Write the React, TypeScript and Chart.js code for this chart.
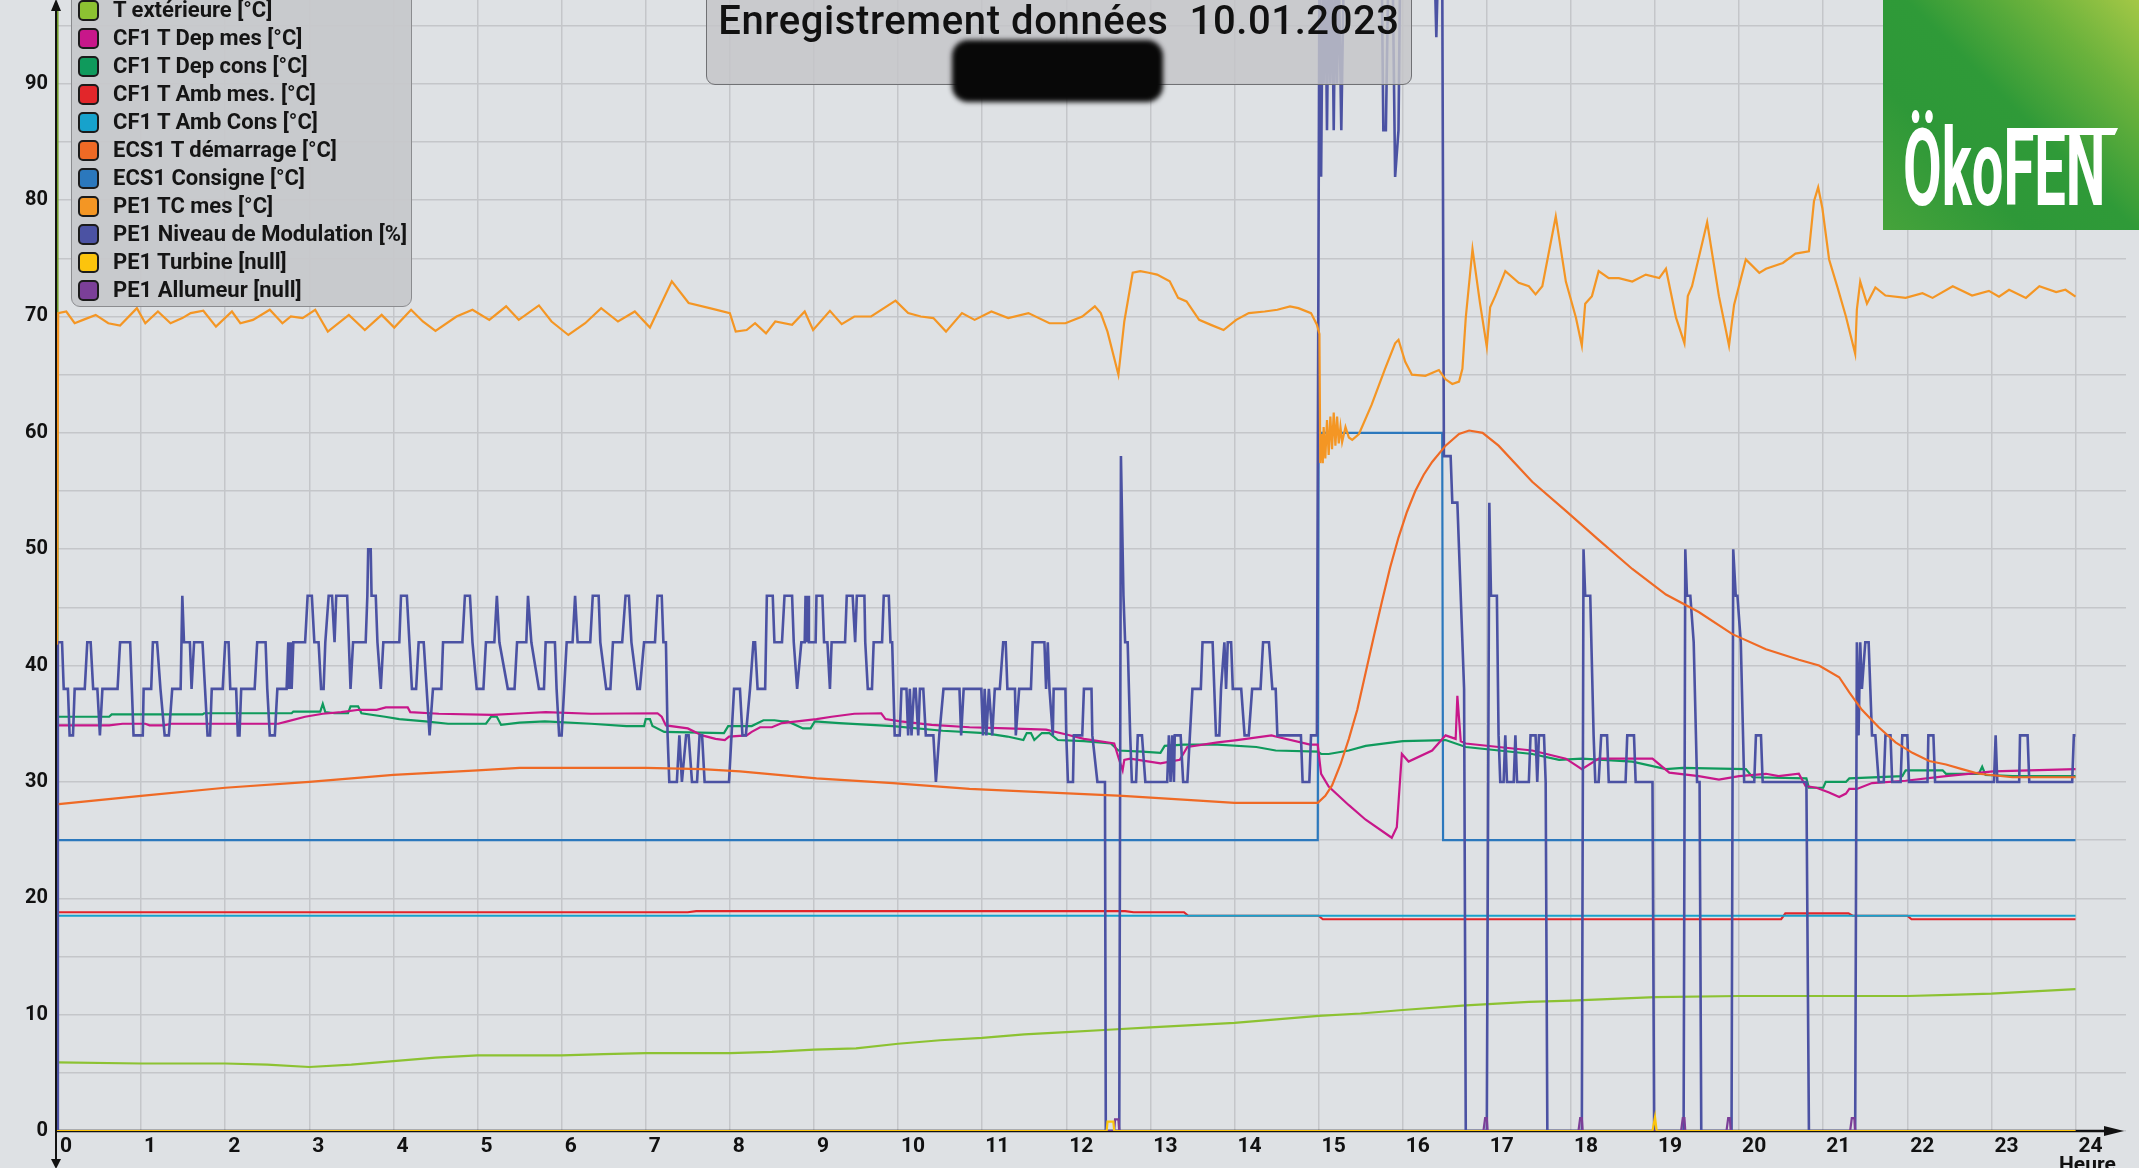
import React, { useEffect, useRef } from "react";
import { Chart, registerables } from "chart.js";

Chart.register(...registerables);

const chartTitle = "Enregistrement données  10.01.2023";
const xAxisName = "Heure";
const logoText = "ÖkoFEN";
const hourLabels = ["0","1","2","3","4","5","6","7","8","9","10","11","12","13","14","15","16","17","18","19","20","21","22","23","24"];
const yLabels = ["0","10","20","30","40","50","60","70","80","90"];

const seriesNames = [
  "T extérieure [°C]",
  "CF1 T Dep mes [°C]",
  "CF1 T Dep cons [°C]",
  "CF1 T Amb mes. [°C]",
  "CF1 T Amb Cons [°C]",
  "ECS1 T démarrage [°C]",
  "ECS1 Consigne [°C]",
  "PE1 TC mes [°C]",
  "PE1 Niveau de Modulation [%]",
  "PE1 Turbine [null]",
  "PE1 Allumeur [null]",
];
const seriesColors = ["#8cc232", "#c8178a", "#0f9a5c", "#e2262a", "#17a2cc", "#ef6a25", "#2b78bd", "#f49624", "#4b52a3", "#fcc40c", "#7b3f98"];

type P = [number, number];

const tExterieure: P[] = [[0,5.9],[1,5.8],[2,5.8],[2.5,5.7],[3,5.5],[3.5,5.7],[4,6.0],[4.5,6.3],[5,6.5],[6,6.5],[6.5,6.6],[7,6.7],[8,6.7],[8.5,6.8],[9,7.0],[9.5,7.1],[10,7.5],[10.5,7.8],[11,8.0],[11.5,8.3],[12,8.5],[12.5,8.7],[13,8.9],[13.5,9.1],[14,9.3],[14.5,9.6],[15,9.9],[15.5,10.1],[16,10.4],[16.75,10.8],[17.5,11.1],[18,11.2],[19,11.5],[20,11.6],[21,11.6],[22,11.6],[22.5,11.7],[23,11.8],[23.5,12.0],[24,12.2]];

const depMes: P[] = [[0.02,34.86],[0.62,34.86],[0.78,35.0],[1.05,35.0],[1.1,34.86],[1.27,34.86],[1.36,35.0],[2.63,35.0],[2.74,35.2],[2.95,35.6],[3.16,35.86],[3.38,36.0],[3.59,36.2],[3.8,36.2],[3.91,36.4],[4.17,36.4],[4.2,36.0],[4.54,35.86],[5.18,35.77],[5.55,35.9],[5.81,36.0],[6.35,35.86],[7.14,35.9],[7.19,35.6],[7.24,34.86],[7.5,34.6],[7.67,34.0],[7.83,33.7],[7.94,33.6],[7.99,33.9],[8.2,34.0],[8.26,34.3],[8.36,34.7],[8.5,34.7],[8.62,35.06],[9.03,35.4],[9.21,35.6],[9.48,35.86],[9.8,35.9],[9.85,35.4],[10.03,35.2],[10.4,34.9],[10.85,34.7],[11.3,34.6],[11.76,34.5],[11.99,34.1],[12.21,33.7],[12.57,33.3],[12.62,32.1],[12.67,31.0],[12.69,31.9],[12.76,32.0],[13.12,31.6],[13.35,31.9],[13.44,33.0],[13.8,33.4],[14.03,33.6],[14.44,34.0],[14.49,33.9],[14.9,33.2],[14.99,33.2],[15.03,30.7],[15.12,29.6],[15.36,28.0],[15.56,26.75],[15.87,25.2],[15.93,26.1],[15.99,32.4],[16.07,31.75],[16.35,32.7],[16.51,34.0],[16.63,33.7],[16.65,37.4],[16.69,33.5],[16.75,33.3],[17.14,33.0],[17.54,32.7],[17.94,32.0],[18.13,31.1],[18.33,32.0],[18.97,32.0],[19.17,30.8],[19.52,30.5],[19.76,30.2],[20.0,30.5],[20.32,30.7],[20.47,30.5],[20.71,30.7],[20.79,29.65],[20.92,29.5],[21.07,29.1],[21.19,28.7],[21.27,29.0],[21.31,29.4],[21.4,29.4],[21.58,29.9],[21.98,30.1],[22.46,30.5],[23.02,30.9],[24,31.1]];

const depCons: P[] = [[0.02,35.6],[0.62,35.6],[0.65,35.8],[1.73,35.8],[1.75,35.9],[2.79,35.9],[2.81,36.05],[3.13,36.05],[3.16,36.7],[3.19,36.0],[3.3,35.9],[3.46,35.9],[3.49,36.5],[3.58,36.5],[3.62,35.9],[3.9,35.6],[4.07,35.4],[4.38,35.2],[4.65,35.0],[5.1,35.0],[5.16,35.6],[5.23,35.6],[5.28,34.9],[5.5,35.1],[5.8,35.2],[6.35,35.0],[6.77,34.8],[6.98,34.8],[7.0,35.4],[7.05,35.4],[7.08,34.8],[7.22,34.3],[7.93,34.2],[7.98,34.8],[8.26,34.8],[8.4,35.3],[8.53,35.3],[8.62,35.2],[8.69,35.2],[8.87,34.6],[8.96,34.6],[9.01,35.2],[9.3,35.05],[9.94,34.8],[10.53,34.4],[11.03,34.2],[11.3,33.9],[11.49,33.6],[11.53,34.2],[11.58,34.2],[11.62,33.6],[11.71,34.2],[11.8,34.2],[11.9,33.6],[12.21,33.5],[12.53,33.3],[12.62,32.7],[12.9,32.6],[13.12,32.5],[13.17,33.1],[13.4,33.2],[13.8,33.2],[14.26,33.0],[14.49,32.7],[14.99,32.6],[15.03,32.4],[15.12,32.4],[15.36,32.7],[15.56,33.1],[16.0,33.5],[16.51,33.6],[16.75,33.0],[17.54,32.4],[17.86,31.9],[18.13,32.0],[18.73,31.75],[19.13,31.1],[19.33,31.2],[20.08,31.1],[20.16,30.4],[20.8,30.3],[20.83,29.5],[21.0,29.5],[21.03,30.0],[21.27,30.0],[21.31,30.3],[21.94,30.5],[21.98,31.0],[22.42,31.0],[22.46,30.7],[22.85,30.7],[22.89,31.3],[22.93,30.6],[23.25,30.5],[24,30.5]];

const ambMes: P[] = [[0.02,18.8],[7.5,18.8],[7.6,18.9],[12.7,18.9],[12.8,18.8],[13.4,18.8],[13.45,18.5],[15.0,18.5],[15.05,18.2],[20.5,18.2],[20.55,18.7],[21.3,18.7],[21.35,18.5],[22.0,18.5],[22.05,18.2],[24,18.2]];

const ambCons: P[] = [[0.02,18.5],[24,18.5]];

const ecsDemarrage: P[] = [[0.02,28.1],[1.0,28.8],[2.0,29.5],[3.0,30.0],[4.0,30.6],[5.0,31.0],[5.5,31.2],[7.0,31.2],[7.67,31.1],[8.12,30.9],[9.03,30.3],[9.94,29.9],[10.85,29.4],[11.76,29.1],[12.67,28.8],[13.58,28.4],[14.0,28.2],[14.99,28.2],[15.08,28.8],[15.16,29.7],[15.26,31.5],[15.36,33.7],[15.46,36.2],[15.56,39.4],[15.66,42.6],[15.75,45.4],[15.85,48.4],[15.95,51.0],[16.05,53.2],[16.15,55.0],[16.25,56.4],[16.35,57.5],[16.51,58.9],[16.67,59.9],[16.79,60.2],[16.95,60.0],[17.14,58.9],[17.54,55.8],[17.94,53.3],[18.33,50.8],[18.73,48.3],[19.13,46.1],[19.52,44.6],[19.92,42.7],[20.32,41.4],[20.71,40.5],[20.95,40.0],[21.19,39.0],[21.31,37.7],[21.46,36.2],[21.66,34.7],[21.86,33.4],[22.06,32.5],[22.26,31.8],[22.46,31.5],[22.65,31.1],[22.85,30.7],[23.25,30.4],[24,30.4]];

const ecsConsigne: P[] = [[0.02,25],[14.99,25],[15.0,60],[16.47,60],[16.48,25],[24,25]];

const tcMes: P[] = [[0.0,41.8],[0.014,70.29],[0.11,70.43],[0.21,69.42],[0.31,69.71],[0.46,70.14],[0.61,69.42],[0.75,69.22],[0.95,70.72],[1.05,69.42],[1.2,70.43],[1.35,69.42],[1.49,69.86],[1.59,70.29],[1.74,70.49],[1.89,69.13],[2.08,70.43],[2.18,69.42],[2.33,69.71],[2.53,70.58],[2.68,69.42],[2.78,70.0],[2.92,69.86],[3.07,70.58],[3.22,68.7],[3.47,70.14],[3.66,68.84],[3.86,70.14],[4.01,69.05],[4.21,70.58],[4.35,69.57],[4.5,68.76],[4.75,70.0],[4.94,70.58],[5.14,69.71],[5.34,70.87],[5.49,69.71],[5.73,70.95],[5.88,69.57],[6.08,68.41],[6.28,69.42],[6.47,70.72],[6.67,69.57],[6.87,70.43],[7.05,69.05],[7.31,73.03],[7.51,71.16],[7.76,70.72],[8.0,70.29],[8.07,68.7],[8.2,68.84],[8.3,69.42],[8.43,68.55],[8.54,69.57],[8.74,69.28],[8.89,70.43],[8.99,68.84],[9.19,70.49],[9.33,69.34],[9.48,70.0],[9.68,70.0],[9.97,71.36],[10.12,70.29],[10.27,70.0],[10.42,69.86],[10.57,68.7],[10.76,70.29],[10.91,69.71],[11.11,70.43],[11.31,69.86],[11.55,70.29],[11.8,69.42],[11.99,69.42],[12.19,70.0],[12.34,70.87],[12.41,70.29],[12.49,68.7],[12.62,65.0],[12.69,69.57],[12.79,73.76],[12.88,73.9],[12.98,73.76],[13.08,73.6],[13.23,73.03],[13.33,71.6],[13.43,71.3],[13.58,69.71],[13.72,69.28],[13.87,68.84],[14.02,69.71],[14.17,70.29],[14.36,70.43],[14.51,70.58],[14.66,70.87],[14.76,70.72],[14.91,70.29],[14.98,69.3],[15.01,68.5],[15.02,57.4],[15.04,59.9],[15.05,57.4],[15.06,60.5],[15.08,57.8],[15.1,61.1],[15.12,58.1],[15.14,61.4],[15.16,58.6],[15.18,61.75],[15.2,58.9],[15.22,61.4],[15.24,59.1],[15.26,60.5],[15.28,59.2],[15.32,60.5],[15.36,59.6],[15.4,59.4],[15.48,59.9],[15.63,62.4],[15.79,65.5],[15.91,67.7],[15.95,68.0],[16.03,66.1],[16.11,65.0],[16.27,64.9],[16.43,65.4],[16.51,64.6],[16.59,64.2],[16.67,64.4],[16.71,65.5],[16.75,69.9],[16.83,75.8],[16.92,71.1],[17.0,67.4],[17.04,70.8],[17.1,71.75],[17.22,73.9],[17.38,72.9],[17.5,72.6],[17.58,71.9],[17.66,72.6],[17.82,78.6],[17.94,73.0],[18.06,69.9],[18.13,67.5],[18.17,71.1],[18.25,71.75],[18.33,73.9],[18.45,73.3],[18.57,73.3],[18.73,73.0],[18.89,73.6],[19.05,73.3],[19.13,74.1],[19.25,69.9],[19.35,67.7],[19.39,71.75],[19.44,72.6],[19.62,78.1],[19.76,71.75],[19.88,67.5],[19.94,71.0],[20.08,74.9],[20.24,73.75],[20.32,74.1],[20.52,74.6],[20.67,75.4],[20.83,75.6],[20.89,79.9],[20.94,81.1],[20.99,79.3],[21.07,74.9],[21.17,72.5],[21.27,70.0],[21.38,66.8],[21.4,70.6],[21.44,73.0],[21.52,71.1],[21.62,72.5],[21.74,71.8],[21.98,71.6],[22.18,72.0],[22.3,71.6],[22.54,72.6],[22.77,71.8],[22.97,72.2],[23.09,71.7],[23.21,72.3],[23.41,71.6],[23.57,72.6],[23.77,72.1],[23.88,72.3],[24.0,71.7]];

const modulation: P[] = [[0,0],[0.01,42],[0.06,42],[0.08,38],[0.13,38],[0.15,34],[0.19,34],[0.21,38],[0.33,38],[0.36,42],[0.4,42],[0.43,38],[0.48,38],[0.51,34],[0.54,38],[0.72,38],[0.75,42],[0.87,42],[0.89,38],[0.91,34],[1.02,34],[1.03,38],[1.12,38],[1.14,42],[1.19,42],[1.23,38],[1.28,34],[1.33,34],[1.37,38],[1.47,38],[1.49,46],[1.51,42],[1.58,42],[1.6,38],[1.63,42],[1.73,42],[1.76,38],[1.79,34],[1.82,34],[1.84,38],[1.97,38],[2.0,42],[2.04,42],[2.06,38],[2.13,38],[2.15,34],[2.17,34],[2.19,38],[2.35,38],[2.38,42],[2.48,42],[2.5,38],[2.53,34],[2.59,34],[2.62,38],[2.73,38],[2.75,42],[2.76,38],[2.78,42],[2.79,38],[2.81,42],[2.95,42],[2.98,46],[3.03,46],[3.06,42],[3.11,42],[3.14,38],[3.17,38],[3.19,42],[3.23,46],[3.27,46],[3.3,42],[3.32,46],[3.45,46],[3.47,42],[3.49,38],[3.52,42],[3.67,42],[3.69,46],[3.7,50],[3.73,50],[3.74,46],[3.79,46],[3.81,42],[3.85,38],[3.88,42],[4.07,42],[4.09,46],[4.16,46],[4.19,42],[4.22,38],[4.27,38],[4.3,42],[4.36,42],[4.43,34],[4.47,38],[4.57,38],[4.59,42],[4.82,42],[4.85,46],[4.91,46],[4.94,42],[4.99,38],[5.07,38],[5.1,42],[5.2,42],[5.23,46],[5.26,42],[5.36,38],[5.44,38],[5.47,42],[5.58,42],[5.6,46],[5.64,42],[5.73,38],[5.79,38],[5.81,42],[5.92,42],[5.94,38],[5.97,34],[6.0,34],[6.03,38],[6.06,42],[6.13,42],[6.16,46],[6.19,42],[6.34,42],[6.37,46],[6.44,46],[6.46,42],[6.53,38],[6.58,38],[6.61,42],[6.72,42],[6.76,46],[6.8,46],[6.83,42],[6.9,38],[6.93,38],[6.98,42],[7.11,42],[7.14,46],[7.19,46],[7.21,42],[7.24,42],[7.26,34],[7.28,30],[7.37,30],[7.4,34],[7.43,30],[7.48,34],[7.51,34],[7.55,30],[7.61,30],[7.64,34],[7.67,34],[7.7,30],[7.99,30],[8.02,34],[8.05,38],[8.12,38],[8.15,34],[8.19,34],[8.24,38],[8.28,42],[8.3,42],[8.33,38],[8.42,38],[8.44,46],[8.51,46],[8.53,42],[8.62,42],[8.65,46],[8.74,46],[8.76,42],[8.8,38],[8.85,42],[8.89,42],[8.9,46],[8.91,42],[8.93,46],[8.94,42],[9.02,42],[9.03,46],[9.1,46],[9.12,42],[9.16,42],[9.19,38],[9.21,42],[9.37,42],[9.39,46],[9.46,46],[9.49,42],[9.51,46],[9.6,46],[9.61,42],[9.64,38],[9.69,38],[9.71,42],[9.81,42],[9.83,46],[9.89,46],[9.91,42],[9.93,42],[9.96,34],[10.02,34],[10.04,38],[10.1,38],[10.12,34],[10.14,38],[10.16,34],[10.19,38],[10.21,38],[10.24,34],[10.26,38],[10.3,38],[10.33,34],[10.42,34],[10.45,30],[10.49,34],[10.54,38],[10.73,38],[10.75,34],[10.78,38],[10.99,38],[11.01,34],[11.03,38],[11.05,34],[11.08,38],[11.12,34],[11.15,38],[11.21,38],[11.25,42],[11.28,42],[11.3,38],[11.39,38],[11.4,34],[11.44,38],[11.58,38],[11.6,42],[11.74,42],[11.76,38],[11.78,42],[11.8,38],[11.84,34],[11.85,38],[11.99,38],[12.0,34],[12.02,30],[12.08,30],[12.09,34],[12.19,34],[12.21,38],[12.3,38],[12.31,34],[12.37,30],[12.46,30],[12.47,0],[12.63,0],[12.65,58],[12.68,46],[12.7,42],[12.73,42],[12.76,34],[12.78,30],[12.83,30],[12.85,34],[12.9,34],[12.94,30],[13.2,30],[13.22,34],[13.24,30],[13.26,34],[13.28,30],[13.29,34],[13.36,34],[13.39,30],[13.44,30],[13.47,34],[13.5,38],[13.6,38],[13.62,42],[13.74,42],[13.78,34],[13.82,34],[13.84,38],[13.88,42],[13.9,38],[13.92,42],[13.96,42],[13.98,38],[14.08,38],[14.12,34],[14.17,34],[14.21,38],[14.31,38],[14.34,42],[14.41,42],[14.45,38],[14.49,38],[14.51,34],[14.79,34],[14.81,30],[14.89,30],[14.91,34],[14.98,34],[15.01,100],[15.03,82],[15.05,100],[15.06,90],[15.08,100],[15.1,86],[15.12,100],[15.14,90],[15.16,100],[15.18,86],[15.2,100],[15.22,90],[15.24,100],[15.27,86],[15.3,100],[15.75,100],[15.77,86],[15.8,86],[15.83,100],[15.88,100],[15.91,82],[15.95,86],[15.97,100],[16.38,100],[16.4,94],[16.42,100],[16.47,100],[16.49,58],[16.57,58],[16.59,54],[16.65,54],[16.67,50],[16.7,44],[16.73,38],[16.75,0],[17.0,0],[17.03,54],[17.05,46],[17.12,46],[17.14,34],[17.16,30],[17.2,30],[17.22,34],[17.24,30],[17.32,30],[17.34,34],[17.36,30],[17.5,30],[17.52,34],[17.58,34],[17.6,30],[17.62,34],[17.68,34],[17.7,30],[17.72,0],[18.13,0],[18.15,50],[18.17,46],[18.23,46],[18.27,34],[18.29,30],[18.33,30],[18.36,34],[18.43,34],[18.45,30],[18.65,30],[18.67,34],[18.75,34],[18.77,30],[18.97,30],[18.99,0],[19.34,0],[19.36,50],[19.38,46],[19.42,46],[19.46,42],[19.5,30],[19.53,30],[19.55,0],[19.91,0],[19.93,50],[19.96,46],[19.98,46],[20.02,42],[20.06,30],[20.18,30],[20.2,34],[20.26,34],[20.28,30],[20.8,30],[20.83,0],[21.38,0],[21.4,42],[21.42,34],[21.44,42],[21.46,38],[21.5,42],[21.54,42],[21.56,38],[21.58,34],[21.62,34],[21.66,30],[21.72,30],[21.74,34],[21.8,34],[21.82,30],[21.92,30],[21.94,34],[22.0,34],[22.02,30],[22.24,30],[22.25,34],[22.31,34],[22.33,30],[23.03,30],[23.05,34],[23.07,30],[23.33,30],[23.34,34],[23.43,34],[23.45,30],[23.96,30],[23.98,34],[24.0,34]];

const turbine: P[] = [[0,0],[12.48,0],[12.49,0.8],[12.56,0.8],[12.57,0],[18.97,0],[19.0,1.2],[19.02,0],[24,0]];

const allumeur: P[] = [[0,0],[12.57,0],[12.58,1],[12.62,1],[12.63,0],[16.96,0],[16.98,1.1],[17.0,1.1],[17.01,0],[18.09,0],[18.11,1.1],[18.13,1.1],[18.14,0],[19.31,0],[19.33,1.1],[19.35,1.1],[19.36,0],[19.85,0],[19.87,1.1],[19.89,1.1],[19.9,0],[21.32,0],[21.34,1.1],[21.37,1.1],[21.38,0],[24,0]];

const seriesData: P[][] = [tExterieure, depMes, depCons, ambMes, ambCons, ecsDemarrage, ecsConsigne, tcMes, modulation, turbine, allumeur];
const seriesOrder = [3, 3, 3, 4, 3, 2, 3, 1, 2, 0, 0];

const W = 2139;
const H = 1168;
const FONT = "Roboto, 'DejaVu Sans', sans-serif";

const axesPlugin = {
  id: "customAxes",
  beforeDatasetsDraw(chart: any) {
    const { ctx } = chart;
    const xs = chart.scales.x;
    const ys = chart.scales.y;
    const x0 = xs.getPixelForValue(0);
    const y0 = ys.getPixelForValue(0);
    ctx.save();
    ctx.strokeStyle = "#111";
    ctx.fillStyle = "#111";
    ctx.lineWidth = 2.5;
    ctx.beginPath();
    ctx.moveTo(x0 - 1, y0);
    ctx.lineTo(2110, y0);
    ctx.stroke();
    ctx.beginPath();
    ctx.moveTo(2124, y0);
    ctx.lineTo(2104, y0 - 5);
    ctx.lineTo(2104, y0 + 5);
    ctx.closePath();
    ctx.fill();
    ctx.lineWidth = 2;
    ctx.beginPath();
    ctx.moveTo(x0 - 1, 8);
    ctx.lineTo(x0 - 1, 1162);
    ctx.stroke();
    ctx.strokeStyle = "#6e9a22";
    ctx.lineWidth = 1.5;
    ctx.beginPath();
    ctx.moveTo(x0 + 0.8, 8);
    ctx.lineTo(x0 + 0.8, y0);
    ctx.stroke();
    ctx.beginPath();
    ctx.moveTo(x0 - 1, -1);
    ctx.lineTo(x0 - 6, 11);
    ctx.lineTo(x0 + 4, 11);
    ctx.closePath();
    ctx.fill();
    ctx.beginPath();
    ctx.moveTo(x0 - 1, 1169);
    ctx.lineTo(x0 - 6, 1159);
    ctx.lineTo(x0 + 4, 1159);
    ctx.closePath();
    ctx.fill();
    ctx.restore();
  },
};

export default function App() {
  const canvasRef = useRef<HTMLCanvasElement | null>(null);

  useEffect(() => {
    const canvas = canvasRef.current;
    if (!canvas) return;
    const datasets = seriesNames.map((name, i) => ({
      label: name,
      data: seriesData[i].map(([x, y]) => ({ x, y })),
      borderColor: seriesColors[i],
      backgroundColor: seriesColors[i],
      borderWidth: i === 8 ? 2.6 : 2.2,
      pointRadius: 0,
      fill: false,
      tension: 0,
      order: seriesOrder[i],
    }));
    const chart = new Chart(canvas, {
      type: "line",
      data: { datasets },
      options: {
        animation: false,
        responsive: false,
        events: [],
        layout: { padding: { left: 0, right: 13, top: 0, bottom: 0 } },
        plugins: {
          legend: { display: false },
          tooltip: { enabled: false },
          title: { display: false },
        },
        scales: {
          x: {
            type: "linear",
            min: 0,
            max: 24.6,
            afterFit: (s: any) => {
              s.height = 37;
              s.paddingLeft = 0;
              s.paddingRight = 0;
            },
            border: { display: false },
            grid: { color: "#c4c6c9", lineWidth: 1.5, drawTicks: false },
            ticks: {
              stepSize: 1,
              includeBounds: false,
              autoSkip: false,
              maxRotation: 0,
              maxTicksLimit: 100,
              align: "start",
              labelOffset: 3,
              padding: 3,
              color: "#111",
              font: { family: FONT, weight: "bold", size: 21 },
              callback: (v: any) => hourLabels[v] ?? "",
            },
          },
          y: {
            type: "linear",
            min: 0,
            max: 97.2,
            afterFit: (s: any) => {
              s.width = 57;
              s.paddingTop = 0;
              s.paddingBottom = 0;
            },
            border: { display: false },
            grid: { color: "#c4c6c9", lineWidth: 1.5, drawTicks: false },
            ticks: {
              stepSize: 5,
              includeBounds: false,
              autoSkip: false,
              maxTicksLimit: 100,
              padding: 9,
              color: "#111",
              font: { family: FONT, weight: "bold", size: 20 },
              callback: (v: any) => (v % 10 === 0 ? yLabels[v / 10] ?? "" : ""),
            },
          },
        },
      } as any,
      plugins: [axesPlugin],
    });
    return () => chart.destroy();
  }, []);

  return (
    <div
      style={{
        position: "fixed",
        left: 0,
        top: 0,
        width: W,
        height: H,
        overflow: "hidden",
        background: "#dee1e4",
        fontFamily: FONT,
      }}
    >
      <canvas ref={canvasRef} width={W} height={H} style={{ position: "absolute", left: 0, top: 0, width: W, height: H }} />

      <div
        style={{
          position: "absolute",
          left: 71,
          top: -14,
          width: 341,
          height: 321,
          boxSizing: "border-box",
          background: "rgba(199,200,203,0.94)",
          border: "1.5px solid #8b8c8f",
          borderRadius: 9,
        }}
      />
      {seriesNames.map((name, i) => (
        <div key={name} style={{ position: "absolute", left: 78, top: 10 + 28 * i - 14, height: 28, display: "flex", alignItems: "center" }}>
          <div
            style={{
              width: 21,
              height: 21,
              boxSizing: "border-box",
              border: "2px solid #1b1b1b",
              borderRadius: 5,
              background: seriesColors[i],
            }}
          />
          <span
            style={{
              marginLeft: 14,
              fontWeight: 700,
              fontSize: 22,
              lineHeight: "28px",
              color: "#151515",
              whiteSpace: "nowrap",
            }}
          >
            {name}
          </span>
        </div>
      ))}

      <div
        style={{
          position: "absolute",
          left: 706,
          top: -12,
          width: 706,
          height: 97,
          boxSizing: "border-box",
          background: "rgba(196,197,200,0.82)",
          border: "1.5px solid #707174",
          borderRadius: 9,
        }}
      />
      <div
        style={{
          position: "absolute",
          left: 706,
          top: 1,
          width: 706,
          textAlign: "center",
          fontSize: 40,
          fontWeight: 500,
          letterSpacing: 0.6,
          lineHeight: "40px",
          color: "#111",
          whiteSpace: "pre",
        }}
      >
        {chartTitle}
      </div>
      <div
        style={{
          position: "absolute",
          left: 952,
          top: 40,
          width: 211,
          height: 62,
          background: "#080808",
          borderRadius: 16,
          filter: "blur(2.5px)",
        }}
      />

      <div
        style={{
          position: "absolute",
          left: 1883,
          top: 0,
          width: 256,
          height: 230,
          background: "linear-gradient(225deg, #a4c846 0%, #6bb23c 22%, #2f9a38 48%, #2e9838 70%, #46a33b 100%)",
          overflow: "hidden",
        }}
      >
        <div
          style={{
            position: "absolute",
            left: 20,
            top: 114,
            fontSize: 108,
            lineHeight: "108px",
            fontWeight: 700,
            color: "#fff",
            transform: "scaleX(0.52)",
            transformOrigin: "0 0",
            whiteSpace: "nowrap",
          }}
        >
          {logoText}
        </div>
        <div
          style={{
            position: "absolute",
            left: 127,
            top: 128,
            width: 108,
            height: 7,
            background: "#fff",
            clipPath: "polygon(0 0, 100% 0, 97% 100%, 0 100%)",
          }}
        />
      </div>

      <div
        style={{
          position: "absolute",
          left: 2059,
          top: 1152,
          fontSize: 21,
          fontWeight: 700,
          color: "#111",
          lineHeight: "24px",
        }}
      >
        {xAxisName}
      </div>
    </div>
  );
}
